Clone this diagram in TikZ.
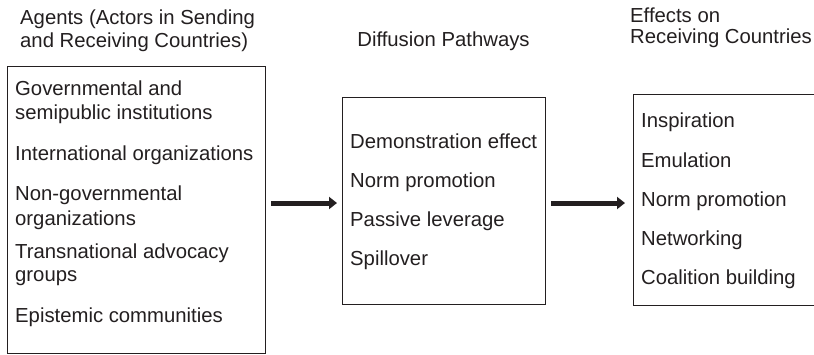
\documentclass[tikz,border=0pt]{standalone}
\usepackage{fontspec}
\setmainfont{Liberation Sans}
\usetikzlibrary{arrows.meta}
\definecolor{ink}{HTML}{231F20}
\begin{document}
\begin{tikzpicture}[x=1pt,y=-1pt,
  box/.style={draw=ink,line width=1pt,inner sep=0pt},
  area/.style={inner sep=0pt,anchor=north west},
  txt/.style={anchor=base west,inner sep=0pt,text=ink,font=\fontsize{20.3}{24}\selectfont},
  bigarrow/.style={draw=ink,line width=5pt,-{Triangle[length=8pt,width=12pt]}}]
\clip (0,0) rectangle (814,354);
\fill[white] (0,0) rectangle (814,354);
% boxes
\node[box,area,minimum width=258pt,minimum height=287pt] (agents) at (7,66) {};
\node[box,area,minimum width=203pt,minimum height=207pt] (paths) at (342,97) {};
\node[area,minimum width=197pt,minimum height=211pt] (effects) at (633,94) {};
\draw[box] (effects.north east) -- (effects.north west) -- (effects.south west) -- (effects.south east);
% titles
\node[txt] (t1a) at (20,24) {Agents (Actors in Sending};
\node[txt] (t1b) at (20,47) {and Receiving Countries)};
\node[txt,anchor=base] (t2) at (443.5,46) {Diffusion Pathways};
\node[txt] (t3a) at (630,22) {Effects on};
\node[txt] (t3b) at (630,43.5) {Receiving Countries};
% left items
\node[txt] (a1) at (15,95) {Governmental and};
\node[txt] (a2) at (15,119) {semipublic institutions};
\node[txt] (a3) at (15,160) {International organizations};
\node[txt] (a4) at (15,200) {Non-governmental};
\node[txt] (a5) at (15,225) {organizations};
\node[txt] (a6) at (15,258.5) {Transnational advocacy};
\node[txt] (a7) at (15,281) {groups};
\node[txt] (a8) at (15,322) {Epistemic communities};
% middle items
\node[txt] (p1) at (350,148) {Demonstration effect};
\node[txt] (p2) at (350,187) {Norm promotion};
\node[txt] (p3) at (350,226) {Passive leverage};
\node[txt] (p4) at (350,265) {Spillover};
% right items
\node[txt] (e1) at (641,127) {Inspiration};
\node[txt] (e2) at (641,167) {Emulation};
\node[txt] (e3) at (641,206) {Norm promotion};
\node[txt] (e4) at (641,245) {Networking};
\node[txt] (e5) at (641,284) {Coalition building};
% arrows
\coordinate (ay) at (0,203);
\draw[bigarrow,shorten <=5pt,shorten >=5pt] (agents.east |- ay) -- (paths.west |- ay);
\draw[bigarrow,shorten <=5pt,shorten >=8pt] (paths.east |- ay) -- (effects.west |- ay);
\end{tikzpicture}
\end{document}
